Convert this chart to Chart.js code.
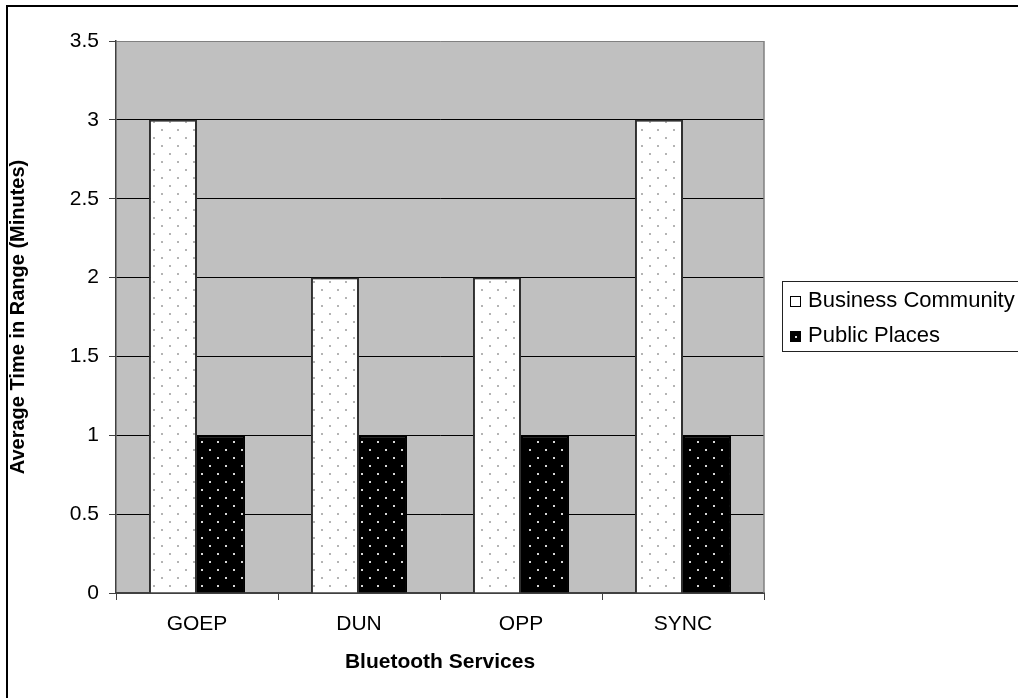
<!DOCTYPE html>
<html>
<head>
<meta charset="utf-8">
<title>Bluetooth Services – Average Time in Range</title>
<script src="https://cdn.jsdelivr.net/npm/chart.js@4.4.1/dist/chart.umd.min.js"></script>
<style>
  html, body { margin: 0; padding: 0; background: #ffffff; }
  #chart { display: block; }
</style>
</head>
<body>
<canvas id="chart" width="1018" height="698"></canvas>
<script>
// Chart data
const categories = ['GOEP', 'DUN', 'OPP', 'SYNC'];
const businessCommunity = [3, 2, 2, 3];
const publicPlaces = [1, 1, 1, 1];
const seriesNames = ['Business Community', 'Public Places'];
const yTickLabels = ['0', '0.5', '1', '1.5', '2', '2.5', '3', '3.5'];

const FONT = "'Liberation Sans', Arial, Helvetica, sans-serif";

// Dotted fill patterns for the two series
function dotPattern(bg, dot) {
  const tile = document.createElement('canvas');
  tile.width = 16; tile.height = 16;
  const t = tile.getContext('2d');
  t.fillStyle = bg;
  t.fillRect(0, 0, 16, 16);
  t.fillStyle = dot;
  t.fillRect(1, 1, 2, 2);
  t.fillRect(9, 9, 2, 2);
  return t.createPattern(tile, 'repeat');
}

const ctx = document.getElementById('chart').getContext('2d');
const lightDots = dotPattern('#ffffff', '#b4b4b4');
const darkDots = dotPattern('#000000', '#d8d8d8');

// Gray plot area behind the grid
const plotBackground = {
  id: 'plotBackground',
  beforeDraw(chart) {
    const { ctx, chartArea: a } = chart;
    ctx.save();
    ctx.fillStyle = '#c0c0c0';
    ctx.fillRect(a.left, a.top, a.right - a.left, a.bottom - a.top);
    ctx.restore();
  }
};

// Plot border, outer frame and boxed legend
const decorations = {
  id: 'decorations',
  afterDraw(chart) {
    const { ctx, chartArea: a } = chart;
    ctx.save();
    // right edge of plot area
    ctx.strokeStyle = '#808080';
    ctx.lineWidth = 1.5;
    ctx.beginPath();
    ctx.moveTo(a.right, a.top);
    ctx.lineTo(a.right, a.bottom);
    ctx.stroke();

    // outer frame
    ctx.strokeStyle = '#000000';
    ctx.lineWidth = 2;
    ctx.strokeRect(7, 6, 2000, 2000);

    // legend box
    ctx.strokeStyle = '#222222';
    ctx.lineWidth = 1;
    ctx.strokeRect(782.5, 281.5, 400, 70);

    const rows = [301, 336];
    ctx.font = '22px ' + FONT;
    ctx.textBaseline = 'middle';
    ctx.textAlign = 'left';
    chart.data.datasets.forEach((ds, i) => {
      const cy = rows[i];
      const sx = 790.5, sy = Math.round(cy - 5) + 0.5;
      if (i === 0) {
        ctx.fillStyle = '#ffffff';
        ctx.fillRect(sx, sy, 10, 10);
        ctx.strokeStyle = '#000000';
        ctx.lineWidth = 1;
        ctx.strokeRect(sx, sy, 10, 10);
      } else {
        ctx.fillStyle = '#000000';
        ctx.fillRect(sx - 0.5, sy - 0.5, 11, 11);
        ctx.fillStyle = '#d8d8d8';
        ctx.fillRect(sx + 4.5, sy + 4.5, 2, 2);
      }
      ctx.fillStyle = '#000000';
      ctx.fillText(ds.label, 808, cy);
    });
    ctx.restore();
  }
};

new Chart(ctx, {
  type: 'bar',
  data: {
    labels: categories,
    datasets: [
      {
        label: seriesNames[0],
        data: businessCommunity,
        backgroundColor: lightDots,
        borderColor: '#303030',
        borderWidth: 2,
        categoryPercentage: 0.593,
        barPercentage: 1
      },
      {
        label: seriesNames[1],
        data: publicPlaces,
        backgroundColor: darkDots,
        borderColor: '#000000',
        borderWidth: 2,
        categoryPercentage: 0.593,
        barPercentage: 1
      }
    ]
  },
  options: {
    responsive: false,
    animation: false,
    devicePixelRatio: 1,
    layout: { padding: { top: 41, right: 254, bottom: 0, left: 0 } },
    plugins: {
      legend: { display: false },
      tooltip: { enabled: false }
    },
    scales: {
      x: {
        afterFit(scale) { scale.height = 105; },
        grid: {
          offset: true,
          drawOnChartArea: false,
          drawTicks: true,
          tickLength: 7,
          color: '#404040',
          lineWidth: 1
        },
        border: { color: '#404040', width: 2 },
        ticks: {
          color: '#000000',
          padding: 12,
          font: { family: FONT, size: 21 }
        },
        title: {
          display: true,
          text: 'Bluetooth Services',
          color: '#000000',
          font: { family: FONT, size: 21, weight: 'bold' },
          padding: { top: 0, bottom: 23 }
        }
      },
      y: {
        min: 0,
        max: 3.5,
        afterFit(scale) { scale.width = 116; },
        grid: {
          color: (c) => (c.tick && c.tick.value === 3.5 ? '#808080' : '#000000'),
          tickColor: '#404040',
          lineWidth: 1,
          tickLength: 7
        },
        border: { color: '#404040', width: 1.5 },
        ticks: {
          stepSize: 0.5,
          color: '#000000',
          padding: 10,
          font: { family: FONT, size: 21 },
          callback: (v, i) => yTickLabels[i]
        },
        title: {
          display: true,
          text: 'Average Time in Range (Minutes)',
          color: '#000000',
          font: { family: FONT, size: 20, weight: 'bold' },
          padding: { top: 6, bottom: 0 }
        }
      }
    }
  },
  plugins: [plotBackground, decorations]
});
</script>
</body>
</html>
